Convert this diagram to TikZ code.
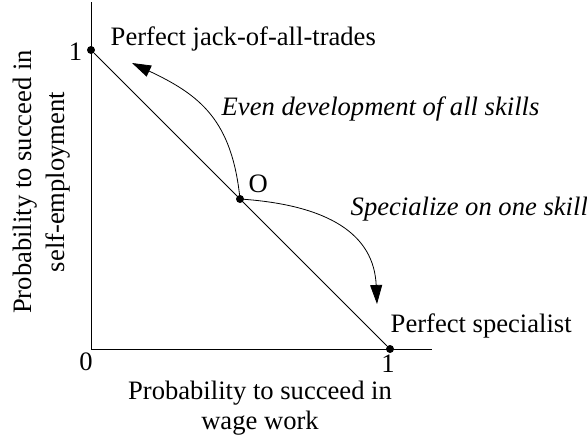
\documentclass[tikz,border=0pt]{standalone}
\usepackage{fontspec}
\setmainfont{Liberation Serif}
\usepackage{tikz}
\usetikzlibrary{arrows.meta}

\begin{document}
\begin{tikzpicture}[x=1pt,y=-1pt,line width=0.8pt,
    every node/.style={font=\fontsize{26.6}{30}\selectfont},
    dot/.style={circle,fill,inner sep=0pt,minimum size=8pt},
    move/.style={-{Triangle[length=19pt,width=12pt]}}]
  \useasboundingbox (0,0) rectangle (587,437);
  % axes
  \coordinate (orig) at (91,349);
  \coordinate (ytop) at (91,2);
  \coordinate (xend) at (432,349);
  \draw (ytop) -- (orig) -- (xend);
  \node[anchor=base] (zero) at (86,370) {0};
  \node[anchor=base,inner sep=1pt] (xone) at (388,372) {1};
  \node[align=center,inner sep=1pt] (xlab) at (260,408) {Probability to succeed in\\wage work};
  \node[align=center,rotate=90,font=\fontsize{26.6}{33}\selectfont] (ylab) at (42,182) {Probability to succeed in\\self-employment};
  % frontier
  \node[dot] (jack) at (91,50) {};
  \node[dot] (spec) at (390,349) {};
  \node[dot] (O) at (240,199) {};
  \draw (jack) -- (spec);
  \node[anchor=base east] (yone) at (86,60) {1};
  \node[anchor=base west] (jacklab) at (107,45) {Perfect jack-of-all-trades};
  \node[anchor=base west] (speclab) at (387,332) {Perfect specialist};
  \node[anchor=base west] (Olab) at (245,192) {O};
  % moves away from O
  \coordinate (evenend) at (132,63);
  \coordinate (specend) at (377,304);
  \draw[move] (O.center) .. controls (232,120) and (200,95) .. (evenend);
  \draw[move] (O.center) .. controls (330,205) and (374,235) .. (specend);
  \node[anchor=base west,font=\fontsize{26.6}{30}\selectfont\itshape] (evenlab) at (218,115) {Even development of all skills};
  \node[anchor=base west,font=\fontsize{26.6}{30}\selectfont\itshape] (speclab2) at (347,215) {Specialize on one skill};
\end{tikzpicture}
\end{document}
